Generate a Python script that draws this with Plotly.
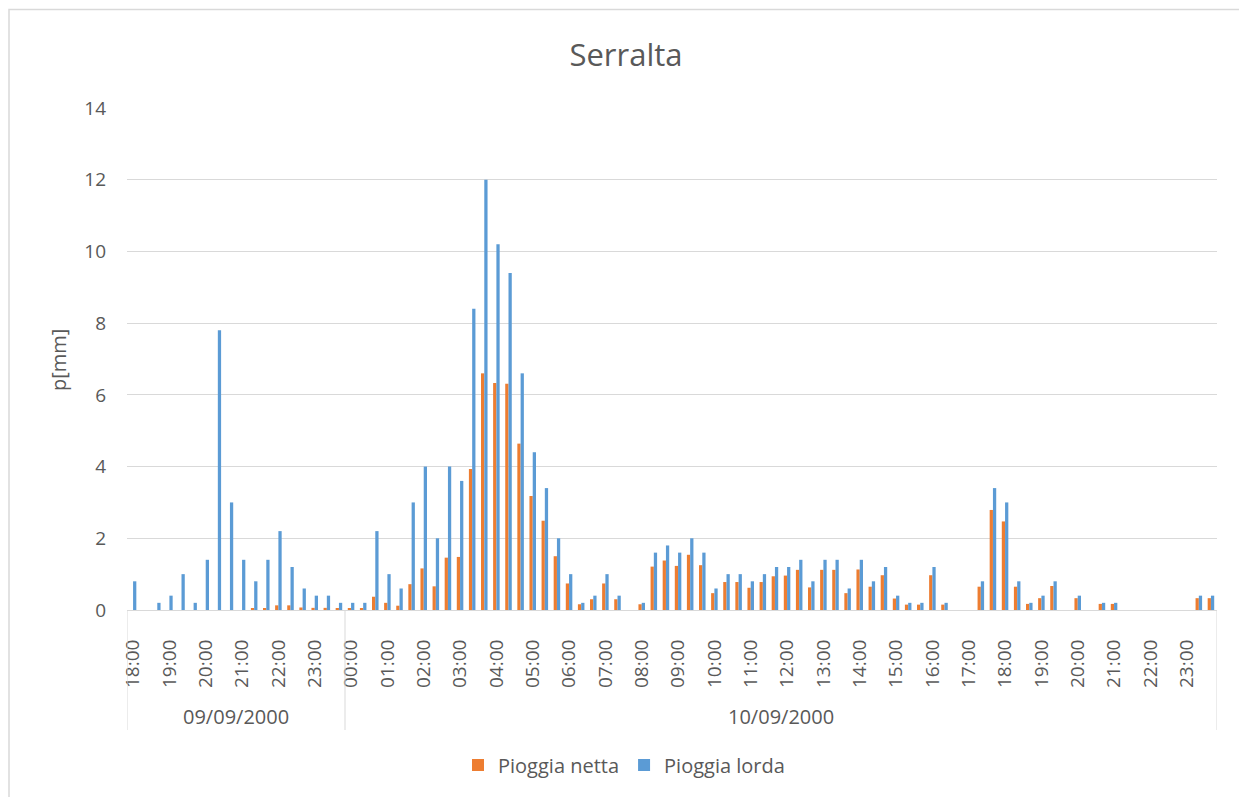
import plotly.graph_objects as go
import pandas as pd

# 20-minute steps, 09/09/2000 18:00 -> 10/09/2000 23:40
tempi = pd.date_range("2000-09-09 18:00", periods=90, freq="20min")

pioggia_netta = [
    0, 0, 0, 0, 0, 0, 0, 0, 0, 0,
    0.03, 0.03, 0.13, 0.13, 0.07, 0.06, 0.06, 0.04, 0.04, 0.03,
    0.37, 0.2, 0.12, 0.72, 1.16, 0.66, 1.46, 1.48, 3.93, 6.6,
    6.33, 6.31, 4.64, 3.18, 2.49, 1.5, 0.74, 0.16, 0.3, 0.74,
    0.3, 0, 0.16, 1.21, 1.38, 1.23, 1.54, 1.25, 0.47, 0.78,
    0.78, 0.62, 0.78, 0.94, 0.96, 1.12, 0.63, 1.12, 1.12, 0.47,
    1.13, 0.65, 0.97, 0.32, 0.15, 0.15, 0.97, 0.15, 0, 0,
    0.65, 2.79, 2.47, 0.65, 0.17, 0.33, 0.67, 0, 0.33, 0,
    0.17, 0.17, 0, 0, 0, 0, 0, 0, 0.33, 0.33,
]

pioggia_lorda = [
    0.8, 0, 0.2, 0.4, 1.0, 0.2, 1.4, 7.8, 3.0, 1.4,
    0.8, 1.4, 2.2, 1.2, 0.6, 0.4, 0.4, 0.2, 0.2, 0.2,
    2.2, 1.0, 0.6, 3.0, 4.0, 2.0, 4.0, 3.6, 8.4, 12.0,
    10.2, 9.4, 6.6, 4.4, 3.4, 2.0, 1.0, 0.2, 0.4, 1.0,
    0.4, 0, 0.2, 1.6, 1.8, 1.6, 2.0, 1.6, 0.6, 1.0,
    1.0, 0.8, 1.0, 1.2, 1.2, 1.4, 0.8, 1.4, 1.4, 0.6,
    1.4, 0.8, 1.2, 0.4, 0.2, 0.2, 1.2, 0.2, 0, 0,
    0.8, 3.4, 3.0, 0.8, 0.2, 0.4, 0.8, 0, 0.4, 0,
    0.2, 0.2, 0, 0, 0, 0, 0, 0, 0.4, 0.4,
]

idx = list(range(len(tempi)))
ore = list(tempi.strftime("%H:%M"))
giorni = list(tempi.strftime("%d/%m/%Y"))

FONT = "Open Sans"
GREY = "#595959"
LINE = "#D9D9D9"

W, H = 1247, 797
OFF = 8  # page body margin, figure starts 8px in

fig = go.Figure()
fig.add_trace(go.Bar(x=idx, y=pioggia_netta, name="Pioggia netta",
                     marker=dict(color="#ED7D31", line=dict(width=0))))
fig.add_trace(go.Bar(x=idx, y=pioggia_lorda, name="Pioggia lorda",
                     marker=dict(color="#5B9BD5", line=dict(width=0))))

# plot area in screen pixels: x 127..1217, y 108..610
L, R, T, B = 127, 1217, 108, 610
def px_x(p):
    return (p - L) / (R - L)
def px_y(p):
    return (B - p) / (B - T)

# second level of the category axis: day groups
shapes = []
annotations = []
starts = [0] + [i for i in range(1, len(giorni)) if giorni[i] != giorni[i - 1]]
ends = starts[1:] + [len(giorni)]
for s, e in zip(starts, ends):
    shapes.append(dict(type="line", xref="x", yref="paper", x0=s - 0.5, x1=s - 0.5,
                       y0=0, y1=px_y(730), line=dict(color=LINE, width=1)))
    annotations.append(dict(xref="x", yref="paper", x=(s + e - 1) / 2, y=px_y(716),
                            text=giorni[s], showarrow=False, yanchor="middle",
                            font=dict(family=FONT, size=20, color=GREY)))
shapes.append(dict(type="line", xref="x", yref="paper", x0=len(idx) - 0.5, x1=len(idx) - 0.5,
                   y0=0, y1=px_y(730), line=dict(color=LINE, width=1)))

# outer chart border
shapes.append(dict(type="rect", xref="paper", yref="paper",
                   x0=px_x(OFF + 1), x1=px_x(1245.5), y0=px_y(805), y1=px_y(9.5),
                   line=dict(color=LINE, width=1.5), layer="below"))

# y axis title
annotations.append(dict(xref="paper", yref="paper", x=px_x(58), y=px_y(360),
                        text="p[mm]", textangle=-90, showarrow=False,
                        xanchor="center", yanchor="middle",
                        font=dict(family=FONT, size=20, color=GREY)))

fig.update_layout(
    width=W,
    height=H,
    margin=dict(l=L - OFF, r=W - (R - OFF), t=T - OFF, b=H - (B - OFF)),
    paper_bgcolor="white",
    plot_bgcolor="white",
    barmode="group",
    bargap=0.46,
    bargroupgap=0,
    title=dict(text="Serralta", x=(626 - OFF) / W, xref="container", xanchor="center",
               y=1 - (55 - OFF) / H, yref="container", yanchor="middle",
               font=dict(family=FONT, size=31, color=GREY)),
    font=dict(family=FONT, color=GREY),
    showlegend=True,
    legend=dict(orientation="h", x=px_x(624), xanchor="center", y=px_y(765),
                yanchor="middle", font=dict(family=FONT, size=20, color=GREY),
                traceorder="normal"),
    shapes=shapes,
    annotations=annotations,
    xaxis=dict(
        range=[-0.5, len(idx) - 0.5],
        tickmode="array",
        tickvals=idx[::3],
        ticktext=ore[::3],
        tickangle=-90,
        tickfont=dict(family=FONT, size=19, color=GREY),
        ticks="",
        ticklabelstandoff=21,
        showgrid=False,
        showline=True,
        linecolor=LINE,
        linewidth=1,
        zeroline=False,
    ),
    yaxis=dict(
        range=[0, 14],
        dtick=2,
        tickfont=dict(family=FONT, size=19, color=GREY),
        ticks="",
        ticklabelstandoff=20,
        showgrid=True,
        gridcolor=LINE,
        gridwidth=1,
        zeroline=False,
        showline=False,
    ),
)

fig.write_html("out.html")
